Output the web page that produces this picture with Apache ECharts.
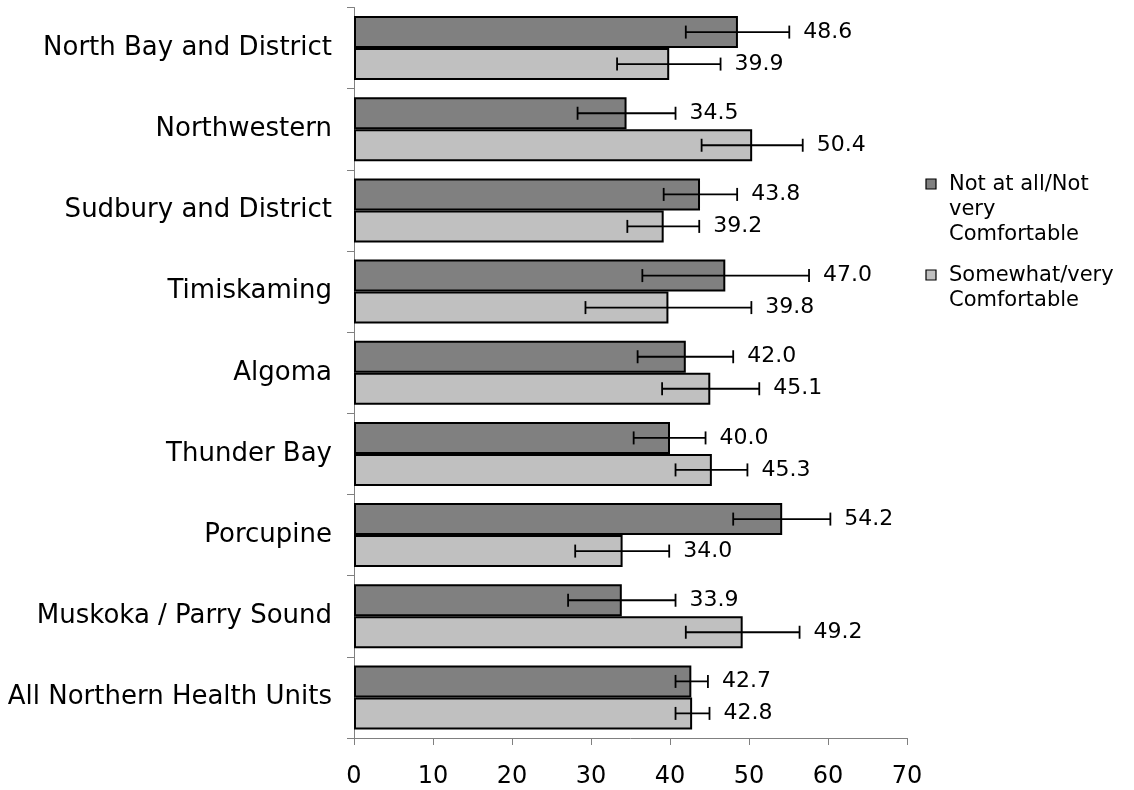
<!DOCTYPE html>
<html>
<head>
<meta charset="utf-8">
<title>Comfort by health unit</title>
<script src="https://cdn.jsdelivr.net/npm/echarts@6/dist/echarts.min.js"></script>
<style>
  html, body { margin: 0; padding: 0; background: #fff; }
  #chart { width: 1134px; height: 790px; }
</style>
</head>
<body>
<div id="chart"></div>
<script>
// Health units, top to bottom
const categories = [
  'North Bay and District',
  'Northwestern',
  'Sudbury and District',
  'Timiskaming',
  'Algoma',
  'Thunder Bay',
  'Porcupine',
  'Muskoka / Parry Sound',
  'All Northern Health Units'
];

const seriesNames = ['Not at all/Not very Comfortable', 'Somewhat/very Comfortable'];

// Percentages
const notComfortable = [48.6, 34.5, 43.8, 47.0, 42.0, 40.0, 54.2, 33.9, 42.7];
const comfortable    = [39.9, 50.4, 39.2, 39.8, 45.1, 45.3, 34.0, 49.2, 42.8];

// 95% confidence limits
const notComfortableLow  = [42.0, 28.3, 39.2, 36.5, 35.9, 35.4, 48.0, 27.1, 40.7];
const notComfortableHigh = [55.1, 40.7, 48.5, 57.6, 48.0, 44.5, 60.3, 40.7, 44.8];
const comfortableLow     = [33.3, 44.0, 34.6, 29.3, 39.0, 40.7, 28.0, 42.0, 40.7];
const comfortableHigh    = [46.4, 56.8, 43.7, 50.3, 51.3, 49.8, 39.9, 56.4, 45.0];

const xTicks = [0, 10, 20, 30, 40, 50, 60, 70];

const FONT = '"DejaVu Sans", Verdana, sans-serif';
const BAR_W = 32;
const colors = ['#808080', '#C0C0C0'];

// error bar + value label, drawn beside each bar
function errorSeries(values, lows, highs, side) {
  return {
    type: 'custom',
    z: 5,
    encode: { x: [1, 2], y: 0 },
    data: values.map((v, i) => [i, lows[i], highs[i], v]),
    renderItem: function (params, api) {
      const cat = api.value(0);
      const lo = api.coord([api.value(1), cat]);
      const hi = api.coord([api.value(2), cat]);
      const y = lo[1] + side * BAR_W / 2;
      const cap = 6.5;
      const stroke = { stroke: '#000', lineWidth: 1.8 };
      return {
        type: 'group',
        children: [
          { type: 'line', shape: { x1: lo[0], y1: y, x2: hi[0], y2: y }, style: stroke },
          { type: 'line', shape: { x1: lo[0], y1: y - cap, x2: lo[0], y2: y + cap }, style: stroke },
          { type: 'line', shape: { x1: hi[0], y1: y - cap, x2: hi[0], y2: y + cap }, style: stroke },
          {
            type: 'text',
            style: {
              text: api.value(3).toFixed(1),
              x: hi[0] + 14,
              y: y,
              align: 'left',
              verticalAlign: 'middle',
              font: '22px ' + FONT,
              fill: '#000'
            }
          }
        ]
      };
    }
  };
}

const chart = echarts.init(document.getElementById('chart'), null, { renderer: 'canvas' });

chart.setOption({
  animation: false,
  backgroundColor: '#fff',
  grid: { left: 354, right: 227, top: 7.5, bottom: 52, containLabel: false },
  xAxis: {
    type: 'value',
    min: xTicks[0],
    max: xTicks[xTicks.length - 1],
    interval: 10,
    splitLine: { show: false },
    axisLine: { show: true, lineStyle: { color: '#808080', width: 1 } },
    axisTick: { show: true, length: 7, lineStyle: { color: '#808080' } },
    axisLabel: { color: '#000', fontFamily: FONT, fontSize: 24, margin: 27 }
  },
  yAxis: {
    type: 'category',
    data: categories,
    inverse: true,
    axisLine: { show: true, lineStyle: { color: '#808080', width: 1 } },
    axisTick: { show: true, length: 7, lineStyle: { color: '#808080' } },
    axisLabel: { color: '#000', fontFamily: FONT, fontSize: 26, margin: 22 }
  },
  series: [
    {
      name: seriesNames[0],
      type: 'bar',
      data: notComfortable,
      barWidth: BAR_W,
      barGap: 0,
      itemStyle: { color: colors[0], borderColor: '#000', borderWidth: 2 }
    },
    {
      name: seriesNames[1],
      type: 'bar',
      data: comfortable,
      barWidth: BAR_W,
      barGap: 0,
      itemStyle: { color: colors[1], borderColor: '#000', borderWidth: 2 }
    },
    errorSeries(notComfortable, notComfortableLow, notComfortableHigh, -1),
    errorSeries(comfortable, comfortableLow, comfortableHigh, 1)
  ],
  graphic: [
    { type: 'rect', shape: { x: 926, y: 179, width: 10, height: 10 },
      style: { fill: colors[0], stroke: '#000', lineWidth: 1.2 } },
    { type: 'text', x: 949, y: 172,
      style: { text: 'Not at all/Not\nvery\nComfortable', font: '21px ' + FONT,
               lineHeight: 25, fill: '#000', verticalAlign: 'top' } },
    { type: 'rect', shape: { x: 926, y: 270, width: 10, height: 10 },
      style: { fill: colors[1], stroke: '#000', lineWidth: 1.2 } },
    { type: 'text', x: 949, y: 263,
      style: { text: 'Somewhat/very\nComfortable', font: '21px ' + FONT,
               lineHeight: 25, fill: '#000', verticalAlign: 'top' } }
  ]
});
</script>
</body>
</html>
